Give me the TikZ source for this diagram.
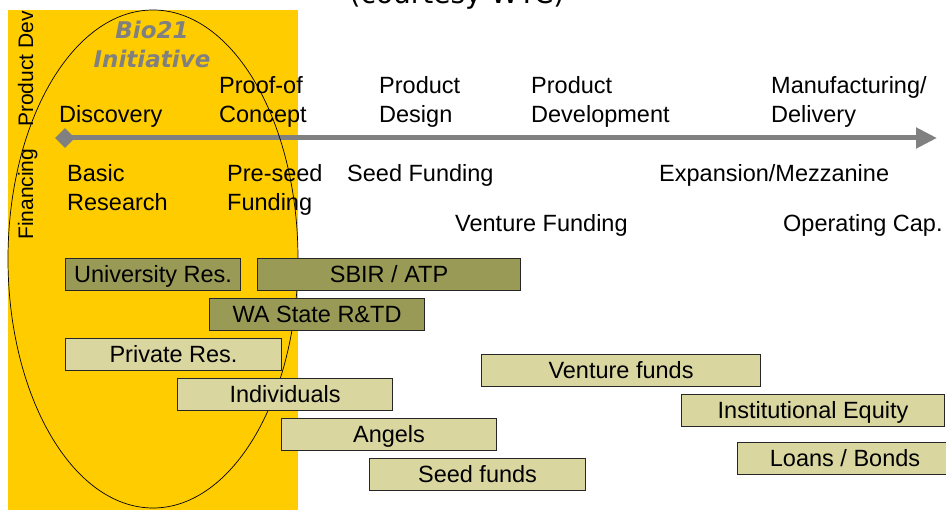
\documentclass[tikz,border=0pt]{standalone}
\usepackage{fontspec}
\setmainfont{Liberation Sans}
\newfontfamily\biofont{DejaVu Sans}
\usetikzlibrary{shapes.geometric,arrows.meta}
\definecolor{bioyellow}{RGB}{255,204,0}
\definecolor{olivebox}{RGB}{152,154,86}
\definecolor{khakibox}{RGB}{218,214,160}
\definecolor{axisgray}{RGB}{128,128,128}
\begin{document}
\begin{tikzpicture}[x=1pt,y=-1pt,
  lbl/.style={anchor=base west, inner sep=0, align=left, font=\fontsize{23.5}{29}\selectfont},
  side/.style={rotate=90, anchor=base west, inner sep=0, font=\fontsize{21}{25}\selectfont},
  fundbox/.style={anchor=north west, draw=black!85, line width=1.1pt, inner sep=0,
                  minimum height=32pt, text height=16.8pt, text depth=0pt,
                  font=\fontsize{23.5}{28}\selectfont},
  gov/.style={fundbox, fill=olivebox},
  priv/.style={fundbox, fill=khakibox}]
\useasboundingbox (0,0) rectangle (946,510);

% Bio21 band
\fill[bioyellow] (8,10) rectangle (298,510);

% heading (runs off the top edge)
\node[anchor=base, inner sep=0, font=\biofont\fontsize{28}{32}\selectfont] (courtesy) at (457,4) {(courtesy WTC)};

% Bio21 title (base anchor sits on the last line)
\node[anchor=base, inner sep=0, align=center, text=axisgray,
      font=\biofont\bfseries\itshape\fontsize{23}{29}\selectfont] (bio) at (152,68) {Bio21\\Initiative};

% row captions
\node[side] (proddev) at (33,127) {Product Dev};
\node[side] (financing) at (33,240) {Financing};

% development stages
\node[lbl] (discovery) at (59,123) {Discovery};
\node[lbl] (proof) at (219,123) {Proof-of\\Concept};
\node[lbl] (design) at (379,123) {Product\\Design};
\node[lbl] (develop) at (531,123) {Product\\Development};
\node[lbl] (manuf) at (771,123) {Manufacturing/\\Delivery};

% stage timeline
\node[diamond, fill=axisgray, inner sep=0, minimum size=20pt] (axstart) at (65,138) {};
\coordinate (axend) at (937,138);
\draw[axisgray, line width=5pt, -{Triangle[length=21pt,width=20pt]}] (axstart.center) -- (axend);

% financing stages
\node[lbl] (basic) at (67,211) {Basic\\Research};
\node[lbl] (preseed) at (227,211) {Pre-seed\\Funding};
\node[lbl] (seedf) at (347,182) {Seed Funding};
\node[lbl] (expansion) at (659,182) {Expansion/Mezzanine};
\node[lbl] (venturef) at (455,232) {Venture Funding};
\node[lbl] (opcap) at (783,232) {Operating Cap.};

% Bio21 initiative outline
\draw[line width=0.7pt] (153,259) ellipse [x radius=145, y radius=249];

% public funding sources
\node[gov, minimum width=175pt] (univ) at (65,258) {University Res.};
\node[gov, minimum width=263pt] (sbir) at (257,258) {SBIR / ATP};
\node[gov, minimum width=215pt] (wastate) at (209,298) {WA State R\&TD};

% private funding sources
\node[priv, minimum width=216pt] (privres) at (65,338) {Private Res.};
\node[priv, minimum width=215pt] (indiv) at (177,378) {Individuals};
\node[priv, minimum width=215pt] (angels) at (281,418) {Angels};
\node[priv, minimum width=216pt] (seedfunds) at (369,458) {Seed funds};
\node[priv, minimum width=279pt] (venture) at (481,354) {Venture funds};
\node[priv, minimum width=263pt] (inst) at (681,394) {Institutional Equity};
\node[priv, minimum width=215pt] (loans) at (737,442) {Loans / Bonds};
\end{tikzpicture}
\end{document}
